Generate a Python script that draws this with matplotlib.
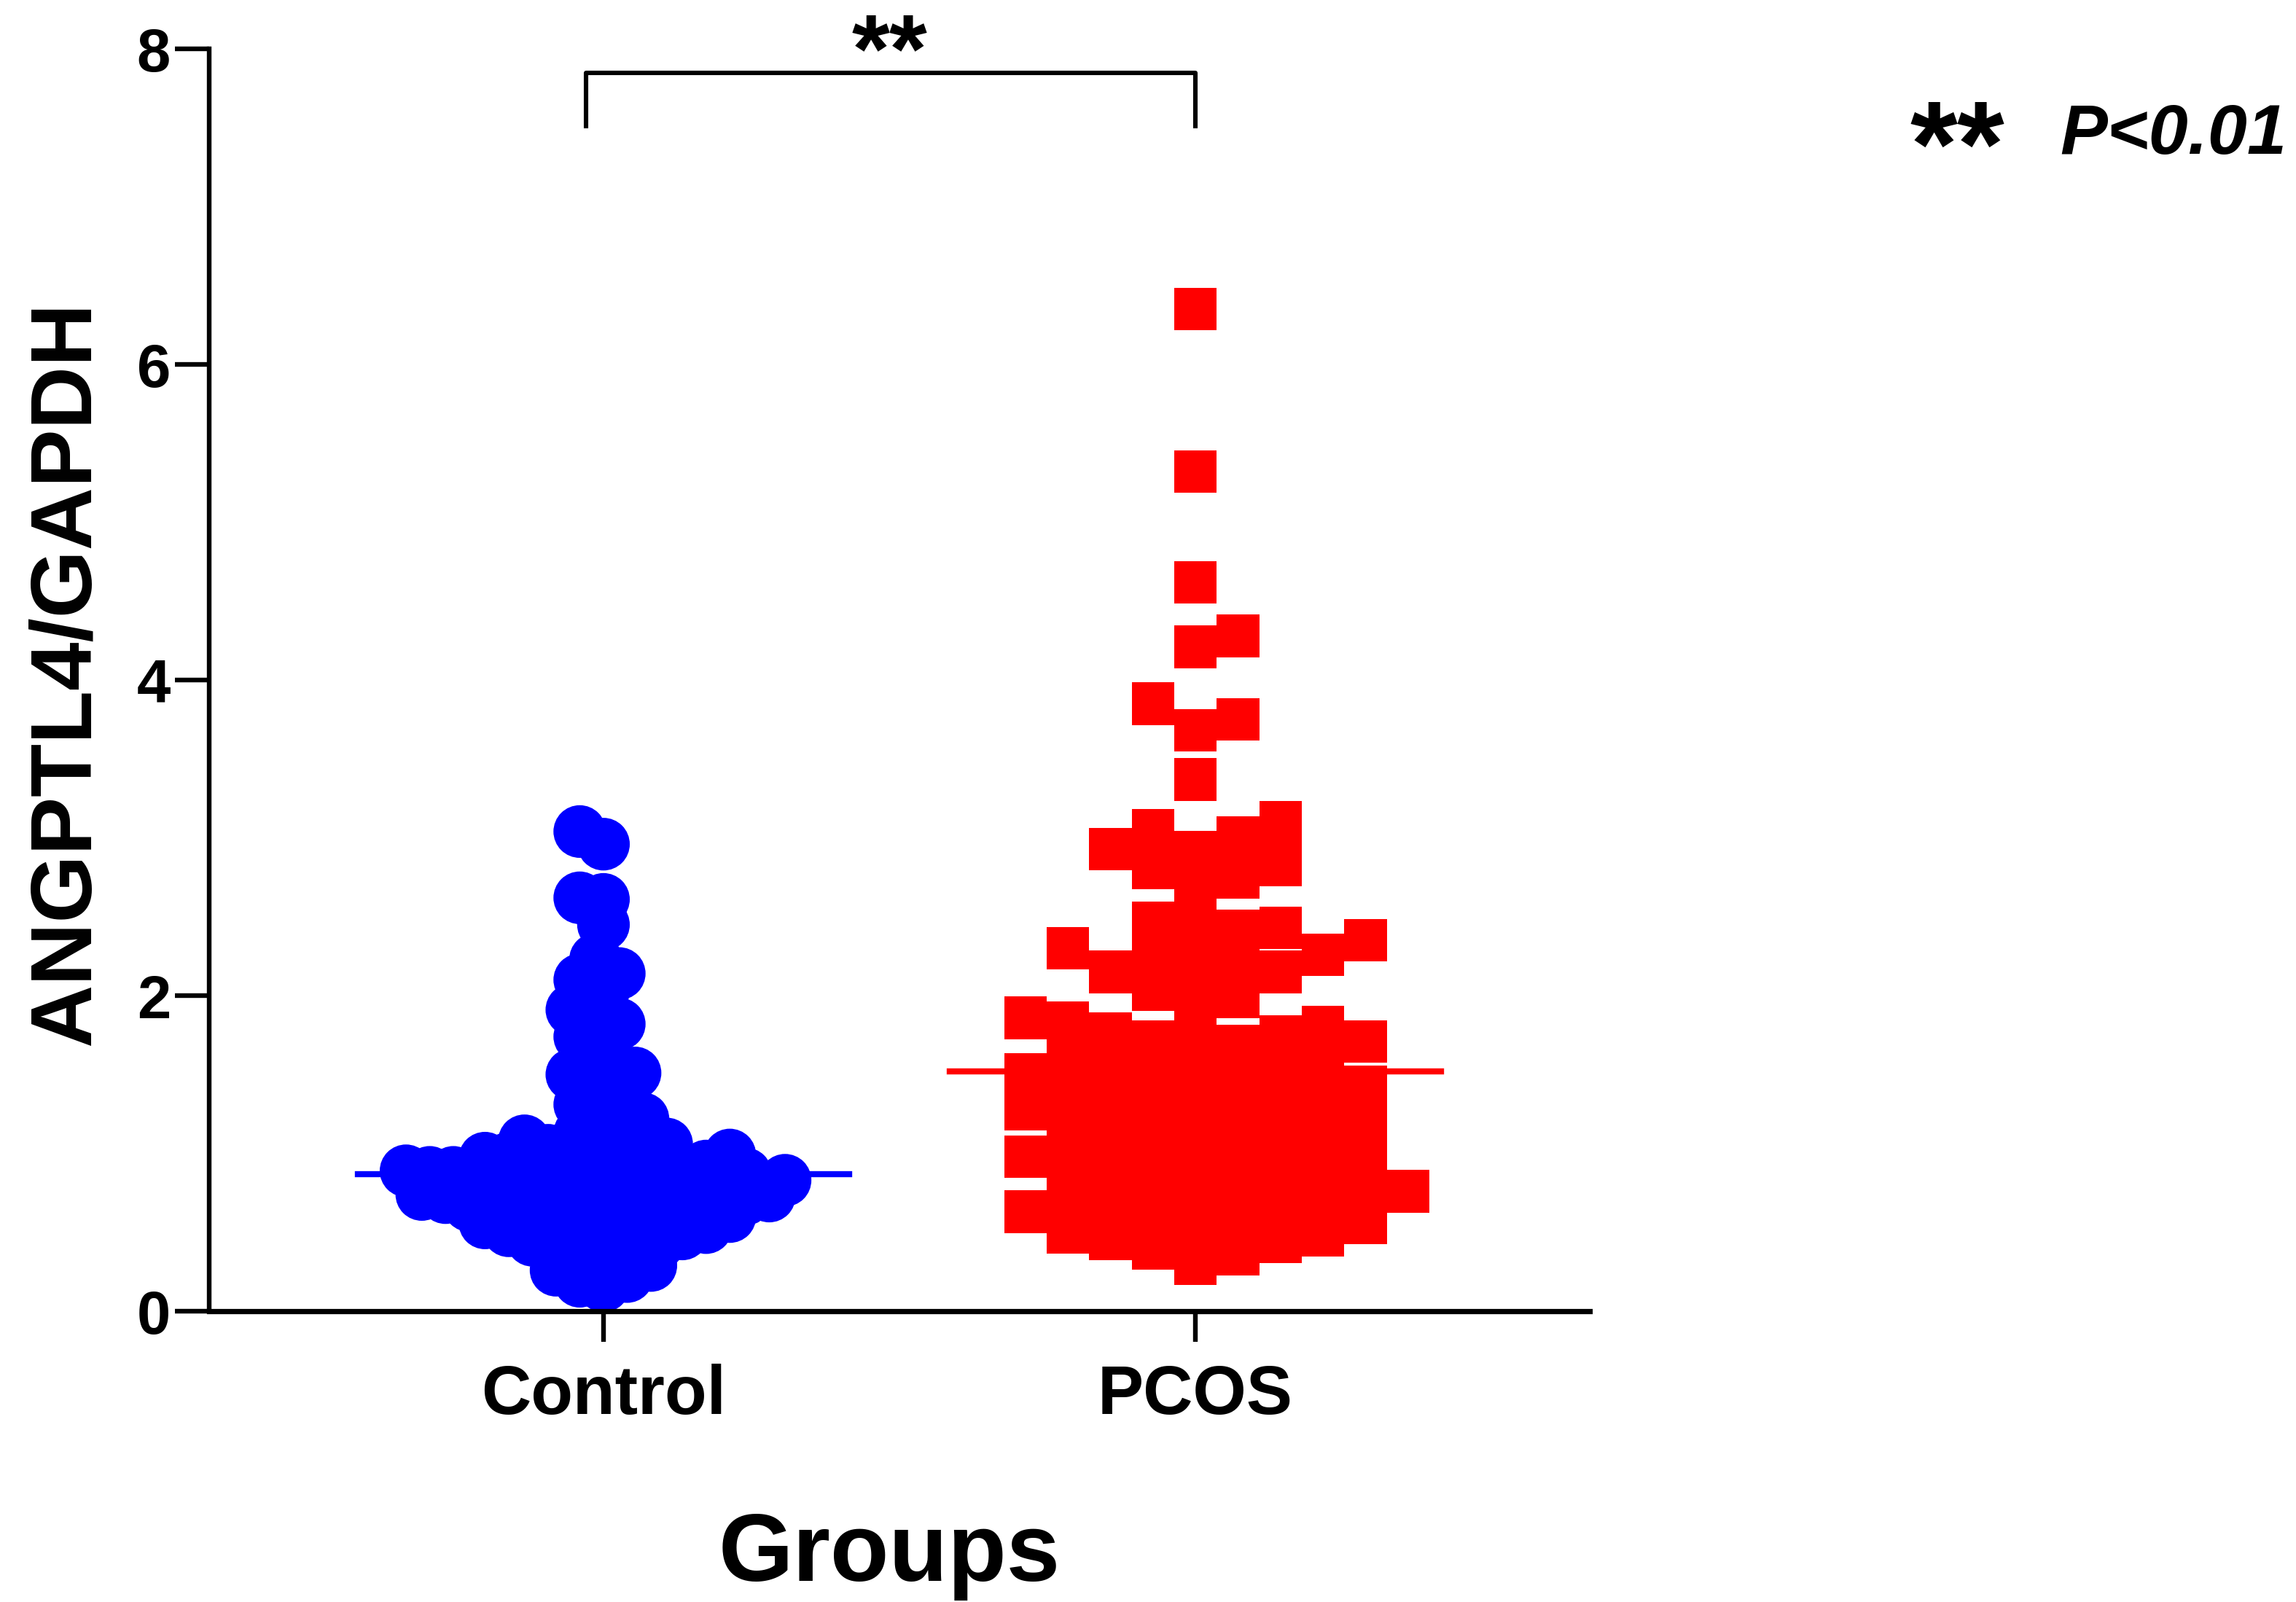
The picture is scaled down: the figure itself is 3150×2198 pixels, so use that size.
import numpy as np
import matplotlib
matplotlib.use("Agg")
import matplotlib.pyplot as plt

# values (ANGPTL4/GAPDH)
groups = ["Control", "PCOS"]

control_values = [
    3.04, 2.96, 2.62, 2.61, 2.45, 2.23, 2.14, 2.10, 2.03, 1.91,
    1.86, 1.82, 1.74, 1.71, 1.56, 1.51, 1.50, 1.45, 1.39, 1.31,
    1.27, 1.22, 1.16, 1.13, 1.08, 1.06, 1.04,
    1.02, 1.01, 0.99, 0.97, 0.97, 0.95, 0.94, 0.92, 0.92, 0.91,
    0.90, 0.89, 0.88, 0.88, 0.87, 0.86, 0.85, 0.83, 0.83, 0.82,
    0.81, 0.80, 0.79, 0.78, 0.77, 0.76, 0.76, 0.74, 0.73, 0.72,
    0.71, 0.70, 0.69, 0.68, 0.67, 0.66, 0.65, 0.64, 0.62, 0.62,
    0.61, 0.60, 0.58, 0.56, 0.55, 0.53, 0.52, 0.51, 0.50, 0.49,
    0.47, 0.45, 0.43, 0.41, 0.38, 0.35, 0.32, 0.29, 0.26, 0.22,
    0.19, 0.16,
]

pcos_values = [
    6.35, 5.32, 4.62, 4.28, 4.21, 3.85, 3.75, 3.68, 3.37,
    3.10, 3.05, 3.00, 2.93, 2.91, 2.83, 2.81, 2.75, 2.64,
    2.46, 2.43, 2.41, 2.38, 2.35, 2.30,
    2.26, 2.25, 2.20, 2.15, 2.15, 2.15, 2.04, 1.99, 1.89,
    1.86, 1.83, 1.80, 1.76, 1.74, 1.71, 1.71, 1.68, 1.66,
    1.60, 1.58, 1.55, 1.53, 1.50, 1.48, 1.45,
    1.42, 1.40, 1.38, 1.36, 1.33, 1.30, 1.28, 1.26, 1.24, 1.21,
    1.18, 1.16, 1.14, 1.11, 1.08, 1.05, 1.02, 1.00, 0.98, 0.96,
    0.93, 0.90, 0.88, 0.86, 0.84, 0.81, 0.78, 0.76, 0.74, 0.71,
    0.69, 0.67, 0.65, 0.63, 0.61, 0.58, 0.56, 0.53, 0.50, 0.48,
    0.46, 0.44, 0.40, 0.36, 0.30,
]

center_lines = [0.87, 1.52]
yticks = [0, 2, 4, 6, 8]

FONT = ["Liberation Sans", "DejaVu Sans"]
plt.rcParams["font.family"] = FONT
plt.rcParams["font.weight"] = "bold"


def swarm(ax, xc, values, size_px, min_frac, step_frac, square, first=1):
    # simple beeswarm in pixel space, returns x positions in data units
    to_px = ax.transData
    p0 = to_px.transform((0, 0))
    p1 = to_px.transform((1, 1))
    xpx = p1[0] - p0[0]
    ypx = p1[1] - p0[1]
    vals = np.asarray(values, dtype=float)
    ys = vals * ypx
    order = np.argsort(vals)
    min_sep = size_px * min_frac
    step = size_px * step_frac
    cands = [0.0]
    for k in range(1, 80):
        cands += [first * k * step, -first * k * step]
    placed_x, placed_y = [], []
    xs = np.zeros(len(vals))
    for i in order:
        y = ys[i]
        px_arr = np.array(placed_x)
        py_arr = np.array(placed_y)
        for c in cands:
            if len(placed_x) == 0:
                break
            dx = np.abs(px_arr - c)
            dy = np.abs(py_arr - y)
            if square:
                d = np.maximum(dx, dy)
            else:
                d = np.hypot(dx, dy)
            if d.min() >= min_sep:
                break
        placed_x.append(c)
        placed_y.append(y)
        xs[i] = xc + c / xpx
    return xs


fig = plt.figure(figsize=(15.75, 10.99), dpi=200)
ax = fig.add_axes([0.0911, 0.1815, 0.6013, 0.788])
ax.set_xlim(-0.666, 1.666)
ax.set_ylim(0, 8)

dpi_scale = 200 / 72.0
circle_pt = 26
square_pt = 21

xs_c = swarm(ax, 0, control_values, circle_pt * dpi_scale, 0.42, 0.15, False, first=-1)
xs_p = swarm(ax, 1, pcos_values, square_pt * dpi_scale, 0.75, 0.5, True)

# median lines behind the points
ax.plot([-0.415, 0.415], [center_lines[0]] * 2, color="#0000ff", lw=3, zorder=1)
ax.plot([1 - 0.415, 1 + 0.415], [center_lines[1]] * 2, color="#ff0000", lw=3, zorder=1)

ax.scatter(xs_c, control_values, s=circle_pt ** 2, marker="o", color="#0000ff",
           edgecolors="none", zorder=2, clip_on=False)
ax.scatter(xs_p, pcos_values, s=square_pt ** 2, marker="s", color="#ff0000",
           edgecolors="none", zorder=2, clip_on=False)

for side in ["top", "right"]:
    ax.spines[side].set_visible(False)
ax.spines["left"].set_linewidth(2.3)
ax.spines["bottom"].set_linewidth(2.6)

ax.set_yticks(yticks)
ax.set_yticklabels([str(t) for t in yticks], fontsize=30, fontweight="bold")
ax.set_xticks([0, 1])
ax.set_xticklabels(groups, fontsize=34, fontweight="bold")
ax.tick_params(axis="y", length=17, width=2.3, pad=2)
ax.tick_params(axis="x", length=15, width=2.3, pad=11)

ax.set_xlabel("Groups", fontsize=47.5, fontweight="bold")
ax.xaxis.set_label_coords(0.4926, -0.158)
ax.set_ylabel("ANGPTL4/GAPDH", fontsize=43, fontweight="bold")
ax.yaxis.set_label_coords(-0.0735, 0.505)

# significance bracket
ax.plot([-0.03, -0.03, 1.0, 1.0], [7.51, 7.85, 7.85, 7.51], color="black",
        lw=2.2, clip_on=False)
ax.text(0.483, 7.79, "**", fontsize=48, fontweight="bold", ha="center",
        va="baseline", clip_on=False)

fig.text(0.832, 0.884, "**", fontsize=60, fontweight="bold", ha="left", va="baseline")
fig.text(0.996, 0.904, "P<0.01", fontsize=35, fontweight="bold", style="italic",
         ha="right", va="baseline")

fig.savefig("out.png", dpi=200, facecolor="white")
